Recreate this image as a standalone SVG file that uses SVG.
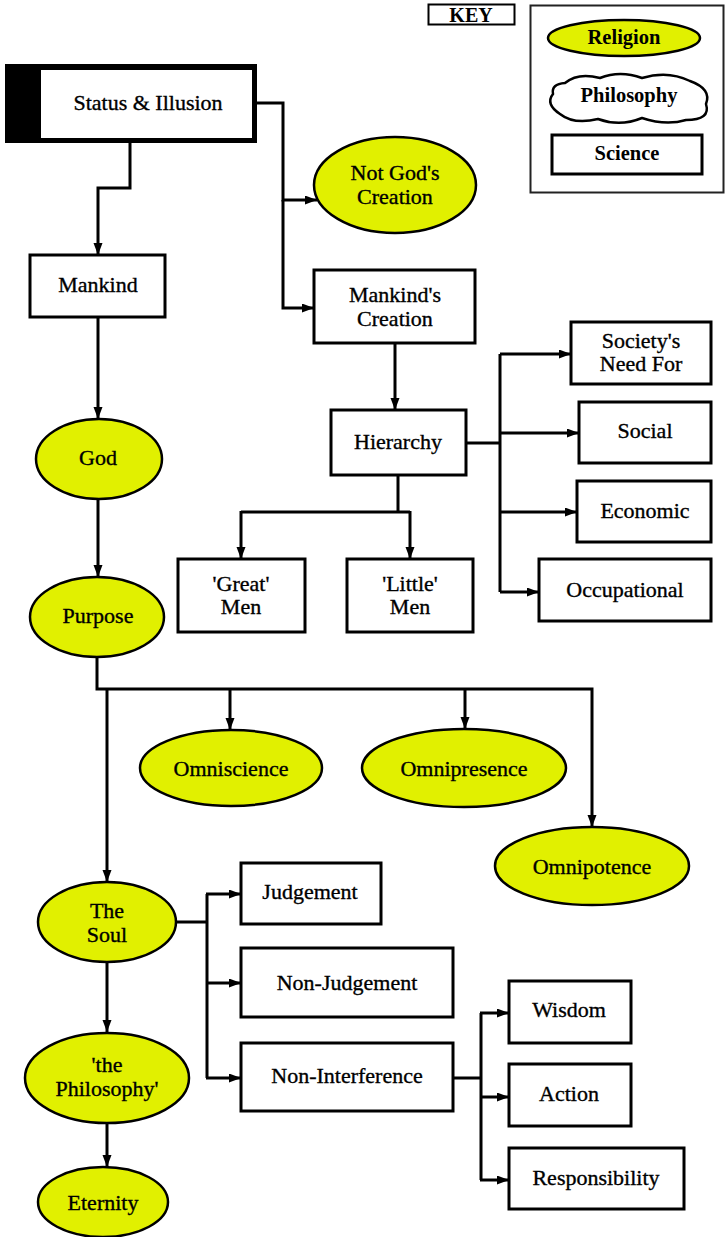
<svg xmlns="http://www.w3.org/2000/svg" width="725" height="1237" viewBox="0 0 725 1237">
<defs>
<marker id="ah" markerUnits="userSpaceOnUse" markerWidth="13" markerHeight="10" refX="12" refY="4.5" orient="auto">
<path d="M0,0 L12,4.5 L0,9 z" fill="#000"/>
</marker>
<style>
text{font-family:"Liberation Serif","Times New Roman",serif;font-size:22px;fill:#000;stroke:#000;stroke-width:0.35;text-anchor:middle;dominant-baseline:central}
.k{font-weight:bold;font-size:20.5px;stroke-width:0}
.box{fill:#fff;stroke:#000;stroke-width:3}
.rel{fill:#e1f000;stroke:#000;stroke-width:2.5}
.c path{fill:none;stroke:#000;stroke-width:3}
.a{marker-end:url(#ah)}
</style>
</defs>
<rect width="725" height="1237" fill="#fff"/>

<g id="key">
<rect x="428.5" y="4.5" width="86" height="20" fill="#fff" stroke="#000" stroke-width="2"/>
<text class="k" x="471" y="15" style="font-size:20px">KEY</text>
<rect x="530.5" y="5.5" width="193" height="187" fill="#fff" stroke="#222" stroke-width="2"/>
<ellipse cx="624" cy="38" rx="76" ry="18" class="rel"/>
<text class="k" x="624" y="37">Religion</text>
<path d="M565,83 Q578,72 600,78 Q620,70 642,78 Q668,70 690,81 Q712,89 706,104 Q711,120 686,120 Q666,126 642,118 Q620,127 598,119 Q574,125 560,114 Q545,104 553,94 Q551,84 565,83 Z" fill="#fff" stroke="#000" stroke-width="2.5"/>
<text class="k" x="629" y="95">Philosophy</text>
<rect x="552" y="135" width="150" height="39" fill="#fff" stroke="#000" stroke-width="3"/>
<text class="k" x="627" y="153">Science</text>
</g>

<g id="status">
<rect x="5" y="64" width="252" height="79" fill="#000"/>
<rect x="41" y="70" width="211" height="68" fill="#fff"/>
<text x="148" y="102">Status &amp; Illusion</text>
</g>

<g id="mankind"><rect class="box" x="30" y="255" width="135" height="62"/><text x="98" y="284">Mankind</text></g>
<g id="notgod"><ellipse class="rel" cx="395" cy="185" rx="81" ry="48"/><text x="395" y="172">Not God's</text><text x="395" y="196">Creation</text></g>
<g id="mkcreation"><rect class="box" x="314" y="270" width="161" height="73"/><text x="395" y="294">Mankind's</text><text x="395" y="318">Creation</text></g>
<g id="hierarchy"><rect class="box" x="331" y="410" width="135" height="65"/><text x="398" y="441">Hierarchy</text></g>
<g id="society"><rect class="box" x="571" y="322" width="140" height="62"/><text x="641" y="340">Society's</text><text x="641" y="363">Need For</text></g>
<g id="social"><rect class="box" x="579" y="402" width="132" height="61"/><text x="645" y="430">Social</text></g>
<g id="economic"><rect class="box" x="577" y="481" width="134" height="61"/><text x="645" y="510">Economic</text></g>
<g id="occupational"><rect class="box" x="539" y="559" width="172" height="62"/><text x="625" y="589">Occupational</text></g>
<g id="great"><rect class="box" x="178" y="559" width="127" height="73"/><text x="241" y="583">'Great'</text><text x="241" y="606">Men</text></g>
<g id="little"><rect class="box" x="347" y="559" width="126" height="73"/><text x="410" y="583">'Little'</text><text x="410" y="606">Men</text></g>
<g id="god"><ellipse class="rel" cx="99" cy="459" rx="63" ry="40"/><text x="98" y="457">God</text></g>
<g id="purpose"><ellipse class="rel" cx="97" cy="617" rx="67" ry="40"/><text x="98" y="615">Purpose</text></g>
<g id="omniscience"><ellipse class="rel" cx="231" cy="768" rx="91" ry="38"/><text x="231" y="768">Omniscience</text></g>
<g id="omnipresence"><ellipse class="rel" cx="464" cy="768" rx="102" ry="39"/><text x="464" y="768">Omnipresence</text></g>
<g id="omnipotence"><ellipse class="rel" cx="592" cy="866" rx="97" ry="39"/><text x="592" y="866">Omnipotence</text></g>
<g id="soul"><ellipse class="rel" cx="107" cy="922" rx="69" ry="40"/><text x="107" y="910">The</text><text x="107" y="934">Soul</text></g>
<g id="judgement"><rect class="box" x="241" y="863" width="140" height="61"/><text x="310" y="891">Judgement</text></g>
<g id="nonjudgement"><rect class="box" x="241" y="948" width="212" height="69"/><text x="347" y="982">Non-Judgement</text></g>
<g id="noninterference"><rect class="box" x="241" y="1043" width="212" height="68"/><text x="347" y="1075">Non-Interference</text></g>
<g id="wisdom"><rect class="box" x="509" y="981" width="122" height="62"/><text x="569" y="1009">Wisdom</text></g>
<g id="action"><rect class="box" x="509" y="1064" width="122" height="62"/><text x="569" y="1093">Action</text></g>
<g id="responsibility"><rect class="box" x="509" y="1148" width="175" height="61"/><text x="596" y="1177">Responsibility</text></g>
<g id="philosophy"><ellipse class="rel" cx="107" cy="1078" rx="82" ry="45"/><text x="107" y="1064">'the</text><text x="107" y="1088">Philosophy'</text></g>
<g id="eternity"><ellipse class="rel" cx="103" cy="1202" rx="65" ry="35"/><text x="103" y="1202">Eternity</text></g>

<g id="connectors" class="c">
<path class="a" d="M257,103 H283 V200 H317"/>
<path class="a" d="M283,200 V308 H314"/>
<path class="a" d="M130,143 V188 H98 V255"/>
<path class="a" d="M98,317 V419"/>
<path class="a" d="M98,499 V577"/>
<path class="a" d="M395,343 V410"/>
<path d="M466,443 H500 M500,354 V592"/>
<path class="a" d="M500,354 H571"/>
<path class="a" d="M500,433 H579"/>
<path class="a" d="M500,512 H577"/>
<path class="a" d="M500,592 H539"/>
<path d="M398,475 V512 M241,512 H410"/>
<path class="a" d="M241,511 V559"/>
<path class="a" d="M410,511 V559"/>
<path class="a" d="M97,657 V689 H592 V827"/>
<path class="a" d="M107,689 V882"/>
<path class="a" d="M230,689 V730"/>
<path class="a" d="M465,689 V729"/>
<path d="M176,922 H207 M207,894 V1078"/>
<path class="a" d="M206,894 H241"/>
<path class="a" d="M207,983 H241"/>
<path class="a" d="M206,1078 H241"/>
<path d="M453,1078 H481 M481,1013 V1180"/>
<path class="a" d="M480,1013 H509"/>
<path class="a" d="M481,1097 H509"/>
<path class="a" d="M480,1180 H509"/>
<path class="a" d="M107,962 V1032"/>
<path class="a" d="M107,1123 V1167"/>
</g>
</svg>
